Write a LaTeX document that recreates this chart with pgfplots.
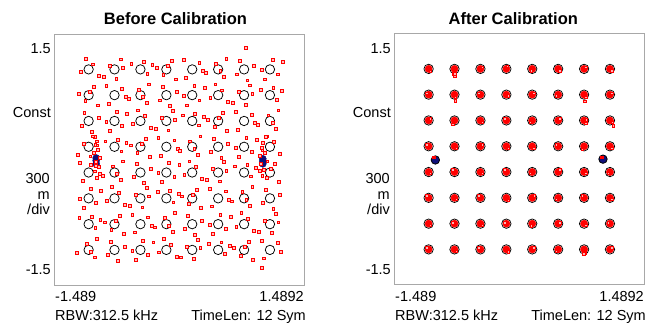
\documentclass[border=0pt]{standalone}
\usepackage{fontspec}
\setmainfont{Liberation Sans}
\usepackage{pgfplots}
\usepackage{pgfplotstable}
\pgfplotsset{compat=1.18}
\definecolor{framegray}{HTML}{A8A8A8}
\definecolor{pilotblue}{HTML}{10107A}

\pgfplotstableread{
x y
-1.080 1.080
-0.772 1.080
-0.463 1.080
-0.154 1.080
0.154 1.080
0.463 1.080
0.772 1.080
1.080 1.080
-1.080 0.772
-0.772 0.772
-0.463 0.772
-0.154 0.772
0.154 0.772
0.463 0.772
0.772 0.772
1.080 0.772
-1.080 0.463
-0.772 0.463
-0.463 0.463
-0.154 0.463
0.154 0.463
0.463 0.463
0.772 0.463
1.080 0.463
-1.080 0.154
-0.772 0.154
-0.463 0.154
-0.154 0.154
0.154 0.154
0.463 0.154
0.772 0.154
1.080 0.154
-1.080 -0.154
-0.772 -0.154
-0.463 -0.154
-0.154 -0.154
0.154 -0.154
0.463 -0.154
0.772 -0.154
1.080 -0.154
-1.080 -0.463
-0.772 -0.463
-0.463 -0.463
-0.154 -0.463
0.154 -0.463
0.463 -0.463
0.772 -0.463
1.080 -0.463
-1.080 -0.772
-0.772 -0.772
-0.463 -0.772
-0.154 -0.772
0.154 -0.772
0.463 -0.772
0.772 -0.772
1.080 -0.772
-1.080 -1.080
-0.772 -1.080
-0.463 -1.080
-0.154 -1.080
0.154 -1.080
0.463 -1.080
0.772 -1.080
1.080 -1.080
}\ideal

\pgfplotstableread{
x y
-1.03 1.14
-1.17 1.05
-0.96 1.00
-1.11 1.21
-0.83 1.12
-0.67 1.10
-0.75 0.97
-0.90 0.99
-0.70 1.20
-0.38 1.03
-0.57 1.15
-0.42 1.17
-0.32 1.13
-0.19 1.01
-0.09 1.18
-0.27 1.10
-0.04 0.96
-0.14 1.12
0.24 1.16
0.08 0.98
0.28 1.06
0.05 1.19
0.44 1.15
0.53 0.99
0.32 1.04
0.56 1.21
0.49 1.06
0.89 1.12
0.72 1.18
0.69 1.02
0.81 0.95
0.98 1.07
1.11 1.19
1.17 1.02
1.02 0.96
1.23 1.17
-1.12 0.70
-1.02 0.87
-1.20 0.79
-0.97 0.65
-1.07 0.81
-0.68 0.85
-0.84 0.67
-0.64 0.75
-0.87 0.88
-0.48 0.84
-0.39 0.68
-0.60 0.73
-0.36 0.90
-0.43 0.75
-0.03 0.81
-0.20 0.87
-0.23 0.71
-0.11 0.64
0.05 0.76
0.18 0.88
0.24 0.71
0.09 0.65
0.30 0.86
0.51 0.83
0.37 0.74
0.58 0.69
0.43 0.90
0.71 0.81
0.87 0.79
0.79 0.66
0.64 0.68
0.84 0.89
1.16 0.72
0.97 0.84
1.12 0.86
1.22 0.82
-0.96 0.50
-1.13 0.56
-1.16 0.40
-1.04 0.33
-0.87 0.45
-0.74 0.57
-0.68 0.40
-0.83 0.34
-0.62 0.55
-0.41 0.52
-0.55 0.43
-0.34 0.38
-0.49 0.59
-0.21 0.50
-0.05 0.48
-0.13 0.35
-0.28 0.37
-0.08 0.58
0.23 0.41
0.04 0.53
0.19 0.55
0.29 0.51
0.42 0.39
0.52 0.56
0.34 0.48
0.57 0.34
0.47 0.50
0.86 0.54
0.70 0.36
0.90 0.44
0.67 0.57
1.06 0.53
1.15 0.37
0.94 0.42
1.18 0.59
1.11 0.44
-1.14 0.19
-0.98 0.17
-1.06 0.04
-1.21 0.06
-1.01 0.27
-0.69 0.10
-0.88 0.22
-0.73 0.24
-0.63 0.20
-0.50 0.08
-0.40 0.25
-0.58 0.17
-0.35 0.03
-0.45 0.19
-0.06 0.23
-0.22 0.05
-0.02 0.13
-0.25 0.26
0.13 0.22
0.22 0.06
0.01 0.11
0.25 0.28
0.18 0.13
0.58 0.19
0.41 0.25
0.38 0.09
0.50 0.02
0.67 0.14
0.80 0.26
0.86 0.09
0.71 0.03
0.92 0.24
1.13 0.21
0.99 0.12
1.20 0.07
1.05 0.28
-0.99 -0.07
-1.15 -0.25
-0.95 -0.17
-1.18 -0.04
-0.79 -0.08
-0.70 -0.24
-0.91 -0.19
-0.67 -0.02
-0.74 -0.17
-0.34 -0.11
-0.51 -0.05
-0.54 -0.21
-0.42 -0.28
-0.25 -0.16
-0.12 -0.04
-0.06 -0.21
-0.21 -0.27
0.00 -0.06
0.20 -0.09
0.06 -0.18
0.27 -0.23
0.12 -0.02
0.40 -0.11
0.56 -0.13
0.48 -0.26
0.33 -0.24
0.53 -0.03
0.85 -0.20
0.66 -0.08
0.81 -0.06
0.91 -0.10
1.04 -0.22
1.14 -0.05
0.96 -0.13
1.19 -0.27
1.09 -0.11
-1.18 -0.47
-1.05 -0.35
-0.99 -0.52
-1.14 -0.58
-0.93 -0.37
-0.72 -0.40
-0.86 -0.49
-0.65 -0.54
-0.80 -0.33
-0.52 -0.42
-0.36 -0.44
-0.44 -0.57
-0.59 -0.55
-0.39 -0.34
-0.07 -0.51
-0.26 -0.39
-0.11 -0.37
-0.01 -0.41
0.11 -0.53
0.21 -0.36
0.03 -0.44
0.26 -0.58
0.16 -0.42
0.55 -0.38
0.39 -0.56
0.59 -0.48
0.36 -0.35
0.75 -0.39
0.84 -0.55
0.63 -0.50
0.87 -0.33
0.80 -0.48
1.20 -0.42
1.03 -0.36
1.00 -0.52
1.12 -0.59
-1.00 -0.82
-1.19 -0.70
-1.04 -0.68
-0.94 -0.72
-0.81 -0.84
-0.71 -0.67
-0.89 -0.75
-0.66 -0.89
-0.76 -0.73
-0.37 -0.69
-0.53 -0.87
-0.33 -0.79
-0.56 -0.66
-0.17 -0.70
-0.08 -0.86
-0.29 -0.81
-0.05 -0.64
-0.12 -0.79
0.27 -0.73
0.10 -0.67
0.07 -0.83
0.19 -0.90
0.36 -0.78
0.49 -0.66
0.55 -0.83
0.40 -0.89
0.61 -0.68
0.82 -0.71
0.68 -0.80
0.89 -0.85
0.74 -0.64
1.02 -0.73
1.18 -0.75
1.10 -0.88
0.95 -0.86
1.15 -0.65
-1.10 -1.01
-1.01 -1.17
-1.22 -1.12
-0.98 -0.95
-1.05 -1.10
-0.65 -1.04
-0.82 -0.98
-0.85 -1.14
-0.73 -1.21
-0.56 -1.09
-0.43 -0.97
-0.37 -1.14
-0.52 -1.20
-0.31 -0.99
-0.10 -1.02
-0.24 -1.11
-0.03 -1.16
-0.18 -0.95
0.09 -1.04
0.25 -1.06
0.17 -1.19
0.02 -1.17
0.22 -0.96
0.54 -1.13
0.35 -1.01
0.50 -0.99
0.60 -1.03
0.73 -1.15
0.83 -0.98
0.65 -1.06
0.88 -1.20
0.78 -1.04
1.17 -1.00
1.01 -1.18
1.21 -1.10
0.98 -0.97
-0.98 0.22
-1.00 0.18
-0.97 0.12
-1.02 0.08
-0.99 -0.03
-0.96 -0.09
-1.01 -0.14
-0.98 -0.22
-1.03 0.28
-0.95 0.02
-1.05 -0.06
1.00 0.20
0.98 0.14
1.02 0.08
0.97 -0.05
1.01 -0.12
0.99 -0.19
1.03 0.27
1.05 -0.02
0.96 0.05
0.79 1.34
0.98 -1.29
}\before

\pgfplotstableread{
x y
-1.060 1.050
-0.780 1.020
-0.440 1.100
-0.140 1.110
0.140 1.060
0.480 1.060
0.790 1.100
1.100 1.060
-1.100 0.790
-0.760 0.740
-0.480 0.790
-0.130 0.760
0.175 0.790
0.440 0.760
0.790 0.740
1.100 0.790
-1.060 0.480
-0.790 0.420
-0.440 0.440
-0.170 0.480
0.130 0.440
0.480 0.480
0.790 0.430
1.110 0.440
-1.100 0.170
-0.750 0.130
-0.440 0.170
-0.130 0.130
0.170 0.130
0.440 0.170
0.750 0.120
1.100 0.130
-1.060 -0.170
-0.790 -0.130
-0.440 -0.170
-0.170 -0.130
0.130 -0.170
0.480 -0.130
0.790 -0.170
1.060 -0.170
-1.100 -0.440
-0.750 -0.480
-0.480 -0.440
-0.130 -0.490
0.180 -0.440
0.440 -0.480
0.750 -0.440
1.100 -0.480
-1.060 -0.790
-0.790 -0.760
-0.440 -0.790
-0.170 -0.760
0.140 -0.800
0.480 -0.760
0.790 -0.790
1.060 -0.760
-1.100 -1.060
-0.750 -1.100
-0.480 -1.060
-0.130 -1.110
0.170 -1.060
0.440 -1.100
0.780 -1.120
1.100 -1.060
-0.770 1.020
-0.770 0.990
-0.760 0.700
0.780 0.690
0.800 0.470
1.120 0.400
-0.760 0.700
0.770 -1.130
}\after

\begin{document}
\begin{tikzpicture}
\useasboundingbox (0,0) rectangle (650pt,327pt);

\pgfplotsset{qam/.style={
  anchor=south west, scale only axis, width=250pt, height=250.7pt,
  xmin=-1.489, xmax=1.4892, ymin=-1.5, ymax=1.5, ticks=none,
  axis line style={framegray, line width=0.9pt}, clip=false}}

% ---------------- Before ----------------
\begin{axis}[qam, at={(54.3pt,42pt)}]
\addplot[only marks, mark=o, mark size=4.7pt, mark options={black, line width=0.75pt}] table {\ideal};
\addplot[only marks, mark=*, mark size=3.5pt, mark options={fill=pilotblue, draw=pilotblue}]
  coordinates {(-0.99,-0.05) (-0.99,-0.01) (-0.99,0.02) (0.995,-0.05) (0.995,-0.02) (0.995,0.01)};
\addplot[only marks, mark=square*, mark size=1.4pt, mark options={draw=red, fill=red!25, line width=0.7pt}] table {\before};
\end{axis}

% ---------------- After ----------------
\begin{axis}[qam, at={(394.3pt,42.5pt)}]
\addplot[only marks, mark=o, mark size=4.7pt, mark options={black, line width=0.75pt}] table {\ideal};
\addplot[only marks, mark=*, mark size=3.6pt, mark options={fill=red, draw=red}] table {\ideal};
\addplot[only marks, mark=square*, mark size=1.25pt, mark options={draw=red, fill=red!30, line width=0.6pt}] table {\after};
\addplot[only marks, mark=*, mark size=4.2pt, mark options={fill=pilotblue, draw=black, line width=0.8pt}]
  coordinates {(-1.0,-0.01) (0.997,0.0)};
\addplot[only marks, mark=square*, mark size=1.2pt, mark options={draw=red, fill=red}]
  coordinates {(-1.02,0.02) (0.98,0.025)};
\end{axis}

% ---------------- Texts ----------------
\begin{scope}[every node/.style={inner sep=0pt, font=\fontsize{14.5}{16}\selectfont}]
\node[font=\fontsize{16.5}{18}\selectfont\bfseries, anchor=base] at (175.5pt,302pt) {Before Calibration};
\node[font=\fontsize{16.5}{18}\selectfont\bfseries, anchor=base] at (513.3pt,302pt) {After Calibration};
\foreach \dx in {0,340}{
  \node[anchor=base east] at (51pt+\dx pt,273pt) {1.5};
  \node[anchor=base east] at (51pt+\dx pt,209pt) {Const};
  \node[anchor=base east] at (50pt+\dx pt,143.5pt) {300};
  \node[anchor=base east] at (50pt+\dx pt,128pt) {m};
  \node[anchor=base east] at (50pt+\dx pt,113pt) {/div};
  \node[anchor=base east] at (51pt+\dx pt,53pt) {-1.5};
  \node[anchor=base west] at (55pt+\dx pt,25.3pt) {-1.489};
  \node[anchor=base east] at (304pt+\dx pt,25.3pt) {1.4892};
  \node[anchor=base west] at (55pt+\dx pt,7pt) {RBW:312.5 kHz};
  \node[anchor=base east] at (306pt+\dx pt,7pt) {TimeLen: 12 Sym};
}
\end{scope}
\end{tikzpicture}
\end{document}
